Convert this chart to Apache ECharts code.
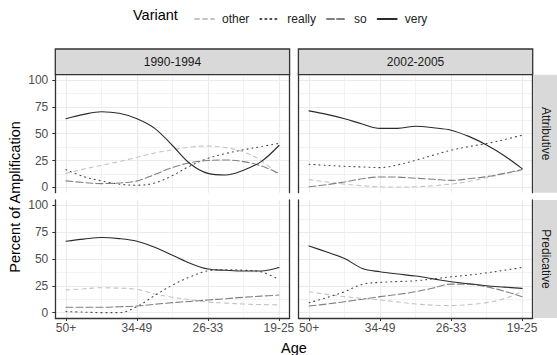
<!DOCTYPE html>
<html><head><meta charset="utf-8">
<script src="https://cdn.jsdelivr.net/npm/echarts@6/dist/echarts.min.js"></script>
<style>html,body{margin:0;padding:0;background:#fff}#c{width:557px;height:355px}</style>
</head><body><div id="c"></div>
<script>
// ---- data ----
const ageLabels = ['50+', '34-49', '26-33', '19-25'];
const agePositions = [1, 2, 3, 4];
const ageMinorPositions = [1.5, 2.5, 3.5];
const periods = ['1990-1994', '2002-2005'];
const functionLabels = ['Attributive', 'Predicative'];
const variants = ['other', 'really', 'so', 'very'];
const sampleX = [1, 1.25, 1.5, 1.75, 2, 2.25, 2.5, 2.75, 3, 3.25, 3.5, 3.75, 4];
const yTicks = [0, 25, 50, 75, 100];
const yMinorTicks = [12.5, 37.5, 62.5, 87.5];

// 1990-1994, Attributive
const attr1990_other  = [13, 17, 20.5, 24, 28, 32, 35, 37.5, 38.5, 37, 33, 25, 11];
const attr1990_really = [16.5, 10, 6, 3, 2, 4, 11, 20, 27, 31.5, 35, 38, 41];
const attr1990_so     = [6, 4.5, 3.5, 4, 6, 12, 18.5, 23, 25, 25.5, 24, 20, 13];
const attr1990_very   = [64, 68, 70.5, 69, 64, 55, 39, 22, 13, 11.5, 16, 24, 39];
// 2002-2005, Attributive
const attr2002_other  = [7.2, 5, 3, 1.5, 0.5, 0.3, 0.5, 1.5, 3, 5.5, 9, 12.5, 16];
const attr2002_really = [21.5, 20.5, 19.6, 19, 18.4, 21, 25.2, 30, 34.6, 38, 40.8, 44.5, 48.6];
const attr2002_so     = [0.5, 2.5, 5, 8, 9.7, 9.5, 8.5, 7.5, 6.5, 8, 10, 13, 16.5];
const attr2002_very   = [71.3, 68, 64, 59, 55, 55, 57, 55.5, 53.3, 47.5, 39.5, 29.5, 17.4];
// 1990-1994, Predicative
const pred1990_other  = [21.1, 22.2, 23.2, 22.8, 21.7, 17.4, 14.3, 12, 9.9, 8.9, 8, 7.5, 7.2];
const pred1990_really = [1, 0.5, 0, 0, 5.6, 16, 25.7, 33.4, 39, 40, 39.5, 38, 31];
const pred1990_so     = [5, 5, 5, 5.5, 6.2, 7.8, 9.3, 10.5, 11.8, 13, 14.3, 15.4, 16.4];
const pred1990_very   = [66.6, 68.5, 70, 69, 66.6, 61, 53.6, 46, 40.6, 39.5, 38.8, 38.8, 42];
// 2002-2005, Predicative
const pred2002_other  = [19.5, 17, 14.9, 13.3, 11.8, 10, 8.1, 7, 6.5, 7.5, 9.3, 13, 19.5];
const pred2002_really = [9.3, 14, 19.5, 26.4, 28.2, 29, 29.7, 31.5, 33.4, 35, 37.1, 39.5, 42.1];
const pred2002_so     = [6.2, 8, 10.2, 12.5, 14.9, 17, 19.5, 23, 26.6, 26.5, 24.1, 20, 14.9];
const pred2002_very   = [62.2, 56.5, 50.5, 41.2, 38.1, 36, 34.1, 31.5, 28.8, 27, 25, 23.8, 22.6];

const panels = [
  [ {other: attr1990_other, really: attr1990_really, so: attr1990_so, very: attr1990_very},
    {other: attr2002_other, really: attr2002_really, so: attr2002_so, very: attr2002_very} ],
  [ {other: pred1990_other, really: pred1990_really, so: pred1990_so, very: pred1990_very},
    {other: pred2002_other, really: pred2002_really, so: pred2002_so, very: pred2002_very} ]
];

// ---- layout / style ----
const FONT = '"Liberation Sans", Arial, sans-serif';
const colLeft = [55.3, 298.4];
const panelW = 234.3;
const rowTop = [74.7, 200];
const panelH = 118;
const BORDER = '#333333';
const GRID_MAJOR = '#ebebeb';
const styles = {
  other:  {color: '#c4c4c4', type: [4, 4], width: 1.1},
  really: {color: '#4a4a4a', type: [1, 4], width: 1.1},
  so:     {color: '#808080', type: [7, 3], width: 1.1},
  very:   {color: '#2b2b2b', type: 'solid', width: 1.1}
};

const grid = [], xAxis = [], yAxis = [], series = [];
for (let r = 0; r < 2; r++) {
  for (let c = 0; c < 2; c++) {
    const g = grid.length;
    grid.push({left: colLeft[c], top: rowTop[r], width: panelW, height: panelH, containLabel: false});
    // major x
    xAxis.push({
      type: 'value', gridIndex: g, min: 0.85, max: 4.15, position: 'bottom',
      axisLine: {show: r === 1, onZero: false, lineStyle: {color: BORDER, width: 1.3}},
      axisTick: {show: r === 1, customValues: agePositions, length: 3, lineStyle: {color: BORDER}},
      axisLabel: {show: r === 1, customValues: agePositions, margin: 4, color: '#4d4d4d', fontSize: 12, fontFamily: FONT,
                  formatter: v => ageLabels[Math.round(v) - 1]},
      splitLine: {show: true, lineStyle: {color: GRID_MAJOR, width: 1.2}}
    });
    // minor x
    xAxis.push({
      type: 'value', gridIndex: g, min: 0.85, max: 4.15, position: 'top',
      axisLine: {show: false}, axisTick: {show: false, customValues: ageMinorPositions},
      axisLabel: {show: false, customValues: ageMinorPositions},
      splitLine: {show: true, lineStyle: {color: GRID_MAJOR, width: 0.6}}
    });
    // major y
    yAxis.push({
      type: 'value', gridIndex: g, min: -5, max: 105, position: 'left',
      axisLine: {show: true, onZero: false, lineStyle: {color: BORDER, width: 1.3}},
      axisTick: {show: c === 0, customValues: yTicks, length: 3, lineStyle: {color: BORDER}},
      axisLabel: {show: c === 0, customValues: yTicks, margin: 7, color: '#4d4d4d', fontSize: 12, fontFamily: FONT},
      splitLine: {show: true, lineStyle: {color: GRID_MAJOR, width: 1.2}}
    });
    // minor y (also draws right panel edge)
    yAxis.push({
      type: 'value', gridIndex: g, min: -5, max: 105, position: 'right',
      axisLine: {show: true, onZero: false, lineStyle: {color: BORDER, width: 1.3}},
      axisTick: {show: false, customValues: yMinorTicks},
      axisLabel: {show: false, customValues: yMinorTicks},
      splitLine: {show: true, lineStyle: {color: GRID_MAJOR, width: 0.6}}
    });
    variants.forEach(v => {
      series.push({
        name: v, type: 'line', xAxisIndex: 2 * g, yAxisIndex: 2 * g,
        data: sampleX.map((x, i) => [x, panels[r][c][v][i]]),
        smooth: 0.35, showSymbol: false, symbol: 'none', silent: true, animation: false,
        lineStyle: {color: styles[v].color, type: styles[v].type, width: styles[v].width, cap: 'round'},
        itemStyle: {color: styles[v].color}, z: 3
      });
    });
  }
}

const graphics = [];
// top strips
for (let c = 0; c < 2; c++) {
  graphics.push({type: 'rect', shape: {x: colLeft[c], y: 49, width: panelW, height: rowTop[0] - 49},
    style: {fill: '#d9d9d9', stroke: BORDER, lineWidth: 1.3}, z: 10});
  graphics.push({type: 'text', x: colLeft[c] + panelW / 2, y: (49 + rowTop[0]) / 2,
    style: {text: periods[c], font: '12px ' + FONT, fill: '#1a1a1a', textAlign: 'center', textVerticalAlign: 'middle'}, z: 11});
}
// right strips
for (let r = 0; r < 2; r++) {
  const x0 = colLeft[1] + panelW + 0.7;
  graphics.push({type: 'rect', shape: {x: x0, y: rowTop[r], width: 557 - x0, height: panelH},
    style: {fill: '#d9d9d9'}, z: 10});
  graphics.push({type: 'text', x: x0 + (557 - x0) / 2 + 1, y: rowTop[r] + panelH / 2, rotation: -Math.PI / 2,
    style: {text: functionLabels[r], font: '12px ' + FONT, fill: '#1a1a1a', textAlign: 'center', textVerticalAlign: 'middle'}, z: 11});
}
// axis titles
graphics.push({type: 'text', x: 15, y: 197, rotation: Math.PI / 2,
  style: {text: 'Percent of Amplification', font: '14.5px ' + FONT, fill: '#000', textAlign: 'center', textVerticalAlign: 'middle'}});
graphics.push({type: 'text', x: 294, y: 348,
  style: {text: 'Age', font: '14.5px ' + FONT, fill: '#000', textAlign: 'center', textVerticalAlign: 'middle'}});
// legend title
graphics.push({type: 'text', x: 133, y: 15,
  style: {text: 'Variant', font: '14.5px ' + FONT, fill: '#000', textAlign: 'left', textVerticalAlign: 'middle'}});

const chart = echarts.init(document.getElementById('c'), null, {renderer: 'svg'});
chart.setOption({
  backgroundColor: '#fff',
  animation: false,
  textStyle: {fontFamily: FONT},
  legend: {
    data: variants, left: 189, top: 8, itemWidth: 19, itemHeight: 14, itemGap: 10,
    itemStyle: {opacity: 0},
    textStyle: {fontSize: 12, color: '#222', fontFamily: FONT, padding: [0, 0, 0, 3]},
    selectedMode: false
  },
  grid, xAxis, yAxis, series,
  graphic: graphics
});
</script></body></html>
